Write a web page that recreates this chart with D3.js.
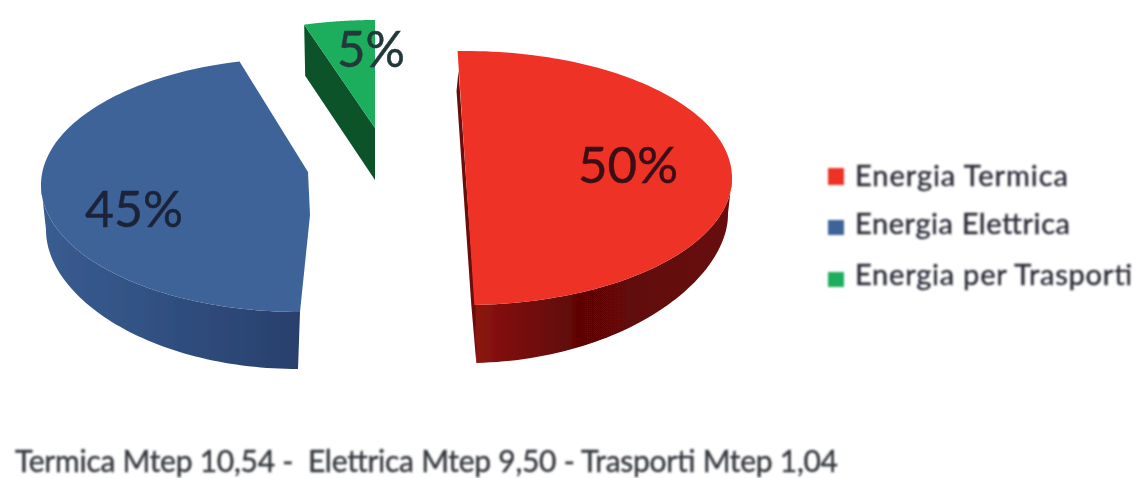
<!DOCTYPE html>
<html><head><meta charset="utf-8">
<script src="https://cdnjs.cloudflare.com/ajax/libs/d3/7.8.5/d3.min.js"></script>
<style>html,body{margin:0;padding:0;background:#fff}svg{display:block}text{font-family:Lato,"Open Sans",sans-serif}</style>
</head><body><svg id="c" width="1140" height="478"></svg>
<script>
const categories = ["Energia Termica","Energia Elettrica","Energia per Trasporti"];
const values = [50,45,5];
const percentLabels = ["50%","45%","5%"];
const note = "Termica Mtep 10,54 -  Elettrica Mtep 9,50 - Trasporti Mtep 1,04";

const topColors = ["#ef3226","#3e6499","#1fae5c"];
const wallStops = [["#8c1412","#5e0606","#680909"],["#3a5c90","#2f4f80","#293f6c"],["#0a522a","#0a522a","#0a522a"]];
const wallMid = [0.4,0.5,0.5];
const deg = Math.PI/180;
// per-slice placement: each slice sits in its own (exploded, perspective-skewed) ellipse
const place = [
 {cx:465,cy:178,rx:267,ry:127,t0:-1.6,t1:178,apex:[[466,178]],dxBack:-4,dyBack:36,dx:2,dy:58,lx:628,ly:183,lw:100},
 {cx:300,cy:185,rx:259,ry:127,t0:180,t1:346.5,apex:[[308,172],[310,215]],dxBack:5,dyBack:45,dx:-2,dy:57,lx:134,ly:227,lw:98},
 {cx:375,cy:148,rx:265,ry:128,t0:344.5,t1:360,apex:[[375,128]],dxBack:0,dyBack:52,dx:0,dy:52,lx:371,ly:67,lw:68}
];
const svg = d3.select("#c");
const defs = svg.append("defs");
const blur = (id,s)=>defs.append("filter").attr("id",id).attr("x","-5%").attr("y","-5%").attr("width","110%").attr("height","110%")
  .append("feGaussianBlur").attr("stdDeviation",s);
blur("soft",0.8); blur("softEdge",0.7);
categories.forEach((c,i)=>{
  const g = defs.append("linearGradient").attr("id","wall"+i);
  [0,wallMid[i],1].forEach((o,k)=>g.append("stop").attr("offset",o).attr("stop-color",wallStops[i][k]));
});
const pie = d3.pie().sort(null).value(d=>d)(values);
const line = d3.line().x(d=>d[0]).y(d=>d[1]);
const pieG = svg.append("g").attr("filter","url(#softEdge)");
pie.forEach((d,i)=>{
  const p = place[i];
  const toT = d3.scaleLinear().domain([d.startAngle,d.endAngle]).range([p.t0*deg,p.t1*deg]);
  const thetas = d3.range(0,121).map(k=>d.startAngle+(d.endAngle-d.startAngle)*k/120);
  const rim = thetas.map(th=>{const t=toT(th);return [p.cx+p.rx*Math.sin(t),p.cy-p.ry*Math.cos(t),t];});
  const front = rim.filter(r=>Math.cos(r[2])<0.02);
  if(i<2){
    // wall depth varies along the rim: perspective shortens it towards the sides
    const down = front.slice().reverse().map(r=>{
      const w = Math.abs(Math.sin(r[2]))**2;
      return [r[0]+p.dx+(p.dxBack-p.dx)*w,r[1]+p.dy+(p.dyBack-p.dy)*w];
    });
    pieG.append("path").attr("d",line(front.concat(down))+"Z").attr("fill",`url(#wall${i})`);
  }
  if(i==2){
    const a=rim[0],ap=p.apex[0];
    pieG.append("path").attr("d",line([[a[0],a[1]],ap,[ap[0]+p.dx,ap[1]+p.dy],[a[0]+1,a[1]+p.dy-1]])+"Z").attr("fill",wallStops[i][0]);
  }
  if(i==0){
    // thin dark cut face along the straight left edge of the red slice
    const a=rim[0],b=rim[rim.length-1],ap=p.apex[0];
    pieG.append("path").attr("d",line([[a[0]-1,a[1]+40],[ap[0]-3.5,ap[1]],[b[0]-3,b[1]],[b[0]+p.dx,b[1]+p.dy],[b[0]+1,b[1]],ap,[a[0]+1,a[1]+20]])+"Z").attr("fill","#6a0a0a");
  }
  pieG.append("path").attr("d",line(rim.concat(p.apex))+"Z").attr("fill",topColors[i]);
});
const labelG = svg.append("g").attr("filter","url(#softEdge)");
const labelColors = ["#3a1015","#1c2438","#23393a"];
percentLabels.forEach((t,i)=>{
  const p = place[i];
  labelG.append("text").attr("x",p.lx).attr("y",p.ly).attr("text-anchor","middle")
    .attr("font-size",51).attr("fill",labelColors[i]).attr("stroke",labelColors[i]).attr("stroke-width",0.5)
    .attr("textLength",p.lw).attr("lengthAdjust","spacingAndGlyphs").text(t);
});
const legendY = [186,234,285];
const legendH = [17,14,13];
const legendW = [213,215,277];
const legG = svg.append("g").attr("filter","url(#soft)");
categories.forEach((c,i)=>{
  const y = legendY[i];
  legG.append("rect").attr("x",828).attr("y",y-legendH[i]-(i==0?1:0)).attr("width",16).attr("height",i==0?17:15).attr("fill",topColors[i]);
  legG.append("text").attr("x",855).attr("y",y).attr("font-size",29).attr("fill","#2b2c38").attr("stroke","#2b2c38").attr("stroke-width",0.4)
    .attr("textLength",legendW[i]).attr("lengthAdjust","spacing").text(c);
});
svg.append("g").attr("filter","url(#soft)").append("text").attr("x",15).attr("y",472).attr("font-size",30).attr("fill","#34373d").attr("stroke","#34373d").attr("stroke-width",0.4)
  .attr("xml:space","preserve").style("white-space","pre").attr("textLength",823).attr("lengthAdjust","spacing").text(note);
</script></body></html>
